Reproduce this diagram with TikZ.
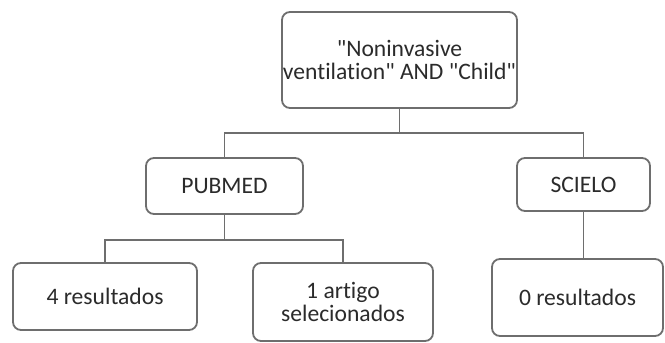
\documentclass[tikz,border=0pt]{standalone}
\usepackage{fontspec}
\setmainfont{Carlito}[Ligatures={NoCommon}]
\usepackage{tikz}
\usetikzlibrary{positioning}
\definecolor{boxline}{HTML}{6E6E6E}
\definecolor{boxtext}{HTML}{2B2B2B}

\begin{document}
\begin{tikzpicture}[
      x=0.5pt, y=-0.5pt,
      searchbox/.style={draw=boxline, line width=0.9pt, rounded corners=4pt, fill=white, text=boxtext,
        align=center, font=\fontsize{11.8}{11.5}\selectfont, inner sep=0pt},
      link/.style={draw=boxline, line width=0.9pt}
    ]
    \useasboundingbox (0,0) rectangle (665,343);
    \node[searchbox, minimum width=117.5pt, minimum height=48pt] (query) at (399.5,60) {\textquotedbl Noninvasive\\ventilation\textquotedbl{} AND \textquotedbl Child\textquotedbl};
    \node[searchbox, minimum width=78.5pt, minimum height=28pt] (pubmed) at (224.5,186) {PUBMED};
    \node[searchbox, minimum width=66.5pt, minimum height=26.5pt] (scielo) at (583.5,184.5) {SCIELO};
    \node[searchbox, minimum width=92pt, minimum height=33.5pt] (found4) at (105,296.5) {4 resultados};
    \node[searchbox, minimum width=90pt, minimum height=39pt] (chosen) at (343,302) {1 artigo\\selecionados};
    \node[searchbox, minimum width=85.5pt, minimum height=38.5pt] (found0) at (577.5,297.5) {0 resultados};

    \coordinate (split) at (399.5,133);
    \coordinate (splitpub) at (224.5,240);
    \draw[link] (query.south) -- (split) -| (pubmed.north);
    \draw[link] (split) -| (scielo.north);
    \draw[link] (pubmed.south) -- (splitpub) -| (found4.north);
    \draw[link] (splitpub) -| (chosen.north);
    \draw[link] (scielo.south) -- (scielo.south |- found0.north);
  \end{tikzpicture}
\end{document}
